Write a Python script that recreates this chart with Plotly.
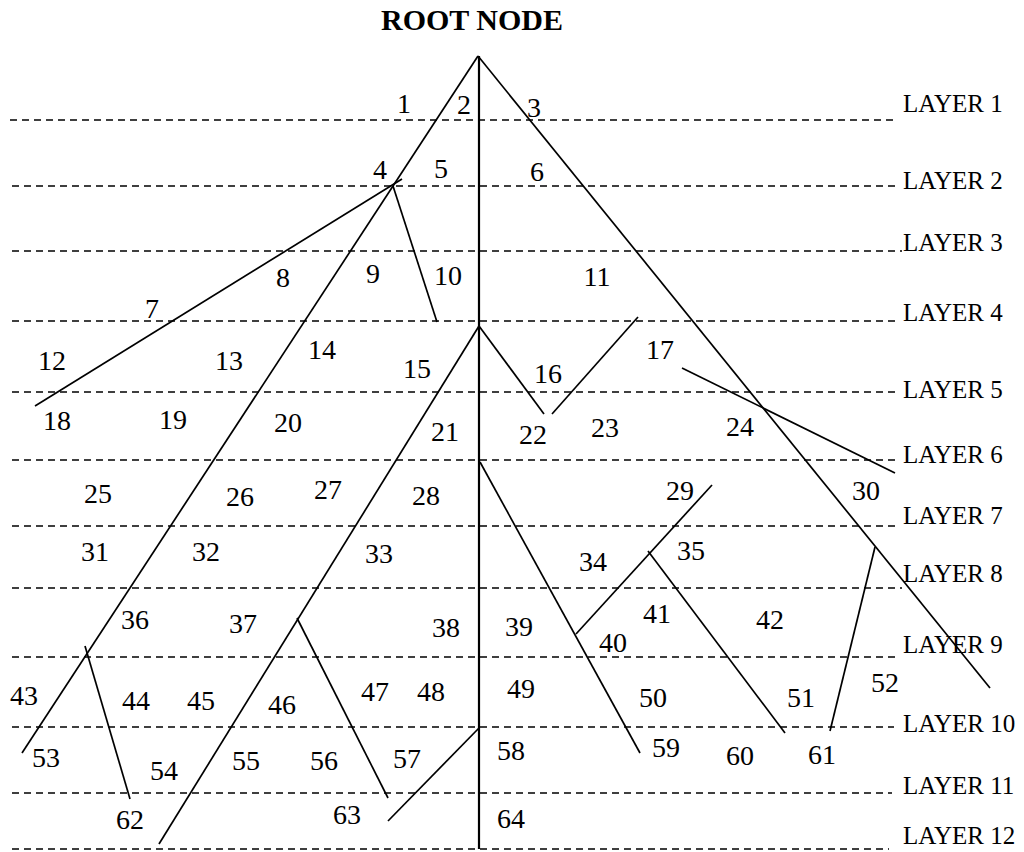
import plotly.graph_objects as go

# ---- data ----
title_text = "ROOT NODE"
title_pos = (472, 20)

layer_names = [f"LAYER {i}" for i in range(1, 13)]
layer_line_y = [120, 186, 251, 321, 392, 460, 526, 588, 657, 727, 793, 849]
layer_line_x0 = [10, 12, 12, 12, 12, 12, 12, 12, 12, 12, 12, 12]
layer_line_x1 = [898, 900, 902, 900, 900, 900, 900, 902, 900, 894, 892, 889]
layer_label_x = [903] * 12
layer_label_y = [104, 181, 243, 313, 390, 455, 516, 574, 645, 724, 786, 836]

# branch segments: x0, y0, x1, y1
seg_x0 = [478, 478, 35, 393, 393, 479, 479, 552, 682, 480, 712, 648, 875, 85, 297, 479]
seg_y0 = [56, 56, 406, 186, 186, 326, 326, 414, 368, 462, 485, 551, 547, 646, 618, 728]
seg_x1 = [393, 990, 402, 22, 437, 159, 544, 638, 895, 640, 576, 785, 830, 130, 388, 388]
seg_y1 = [186, 688, 179, 753, 322, 844, 414, 317, 473, 753, 634, 733, 731, 799, 798, 821]

trunk_x = [479, 479]
trunk_y = [56, 849]

node_numbers = [str(i) for i in range(1, 65)]
node_x = [404, 464, 534, 380, 441, 537, 152, 283, 373, 448,
          597, 52, 229, 322, 417, 548, 660, 57, 173, 288,
          445, 533, 605, 740, 98, 240, 328, 426, 680, 866,
          95, 206, 379, 593, 691, 135, 243, 446, 519, 613,
          657, 770, 24, 136, 201, 282, 375, 431, 521, 653,
          801, 885, 46, 164, 246, 324, 407, 511, 666, 740,
          822, 130, 347, 511]
node_y = [104, 105, 108, 170, 169, 172, 309, 278, 274, 276,
          277, 361, 361, 350, 369, 374, 350, 421, 420, 423,
          432, 435, 428, 427, 494, 497, 490, 496, 491, 491,
          552, 552, 554, 562, 551, 620, 624, 628, 627, 643,
          614, 620, 696, 701, 701, 705, 692, 692, 689, 698,
          698, 683, 758, 771, 761, 761, 759, 751, 748, 756,
          755, 820, 815, 819]

FONT = "Liberation Serif, Times New Roman, serif"
TEXT_DY = 2  # text box centre vs glyph centre

fig = go.Figure()

# dashed layer lines
dx, dy = [], []
for x0, x1, y in zip(layer_line_x0, layer_line_x1, layer_line_y):
    dx += [x0, x1, None]
    dy += [y, y, None]
fig.add_trace(go.Scatter(x=dx, y=dy, mode="lines",
                         line=dict(color="black", width=1.6, dash="7px,5px"),
                         hoverinfo="skip", showlegend=False))

# branch lines
sx, sy = [], []
for a, b, c, d in zip(seg_x0, seg_y0, seg_x1, seg_y1):
    sx += [a, c, None]
    sy += [b, d, None]
fig.add_trace(go.Scatter(x=sx, y=sy, mode="lines",
                         line=dict(color="black", width=1.7),
                         hoverinfo="skip", showlegend=False))

fig.add_trace(go.Scatter(x=trunk_x, y=trunk_y, mode="lines",
                         line=dict(color="black", width=2.2),
                         hoverinfo="skip", showlegend=False))

# node numbers
fig.add_trace(go.Scatter(x=node_x, y=[v + TEXT_DY for v in node_y], mode="text",
                         text=node_numbers, textposition="middle center",
                         textfont=dict(family=FONT, size=28, color="black"),
                         cliponaxis=False, hoverinfo="skip", showlegend=False))

# layer labels
fig.add_trace(go.Scatter(x=layer_label_x, y=[v + TEXT_DY for v in layer_label_y], mode="text",
                         text=layer_names, textposition="middle right",
                         textfont=dict(family=FONT, size=25, color="black"),
                         cliponaxis=False, hoverinfo="skip", showlegend=False))

# title
fig.add_trace(go.Scatter(x=[title_pos[0]], y=[title_pos[1] + TEXT_DY], mode="text",
                         text=[f"<b>{title_text}</b>"], textposition="middle center",
                         textfont=dict(family=FONT, size=30, color="black"),
                         cliponaxis=False, hoverinfo="skip", showlegend=False))

fig.update_layout(
    width=1024, height=852,
    margin=dict(l=0, r=0, t=0, b=0),
    paper_bgcolor="white", plot_bgcolor="white",
    xaxis=dict(range=[0, 1024], visible=False, fixedrange=True),
    yaxis=dict(range=[852, 0], visible=False, fixedrange=True),
)

# remove the default 8px page margin so the figure fills the window exactly
fig.write_html("out.html",
               config={"displayModeBar": False, "staticPlot": True},
               post_script="document.body.style.margin='0';document.body.style.overflow='hidden';")
